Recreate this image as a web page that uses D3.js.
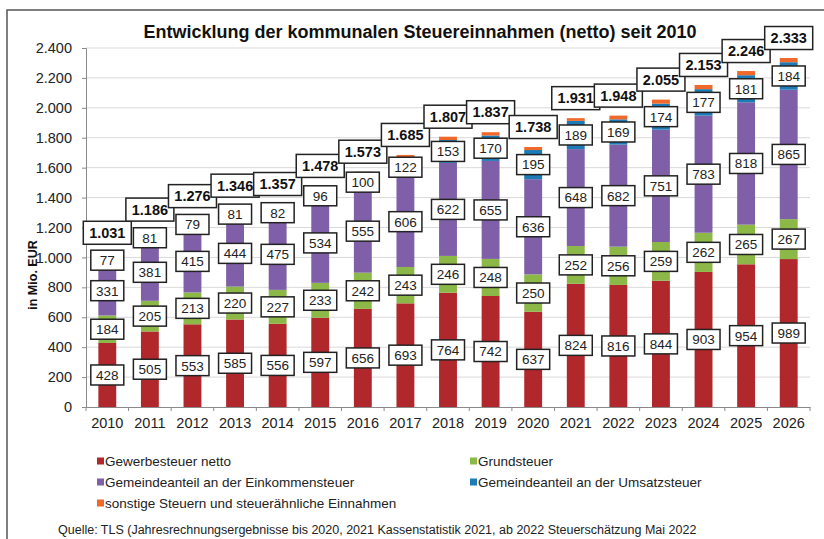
<!DOCTYPE html>
<html>
<head>
<meta charset="utf-8">
<script src="https://cdn.jsdelivr.net/npm/d3@7"></script>
<style>
  body { margin: 0; background: #fff; }
  svg { font-family: "Liberation Sans", Arial, sans-serif; display: block; }
</style>
</head>
<body>
<div id="chart"></div>
<script>
var svgWidth = 824;
var svgHeight = 539;

// values (Mio. EUR)
var years = ["2010", "2011", "2012", "2013", "2014", "2015", "2016", "2017", "2018",
  "2019", "2020", "2021", "2022", "2023", "2024", "2025", "2026"];
var gewerbe = [428, 505, 553, 585, 556, 597, 656, 693, 764, 742, 637, 824, 816, 844, 903, 954, 989];
var grund = [184, 205, 213, 220, 227, 233, 242, 243, 246, 248, 250, 252, 256, 259, 262, 265, 267];
var einkommen = [331, 381, 415, 444, 475, 534, 555, 606, 622, 655, 636, 648, 682, 751, 783, 818, 865];
var umsatz = [77, 81, 79, 81, 82, 96, 100, 122, 153, 170, 195, 189, 169, 174, 177, 181, 184];
var sonstige = [11, 14, 16, 16, 17, 18, 20, 21, 22, 22, 20, 18, 25, 27, 28, 28, 28];
var totals = [1031, 1186, 1276, 1346, 1357, 1478, 1573, 1685, 1807, 1837, 1738, 1931, 1948, 2055, 2153, 2246, 2333];
var yTicks = [0, 200, 400, 600, 800, 1000, 1200, 1400, 1600, 1800, 2000, 2200, 2400];

var seriesNames = ["Gewerbesteuer netto", "Grundsteuer", "Gemeindeanteil an der Einkommensteuer",
  "Gemeindeanteil an der Umsatzsteuer", "sonstige Steuern und steuerähnliche Einnahmen"];
var seriesKeys = ["gewerbe", "grund", "einkommen", "umsatz", "sonstige"];
var colors = ["#b0282b", "#8cb847", "#7f5fa8", "#1d7cb8", "#f1692a"];
var labelled = [true, true, true, true, false];

var de = d3.formatLocale({ decimal: ",", thousands: ".", grouping: [3], currency: ["", " €"] });
var fmt = de.format(",d");

// build rows for d3.stack
var rows = years.map(function(y, i) {
  return { year: y, gewerbe: gewerbe[i], grund: grund[i], einkommen: einkommen[i],
    umsatz: umsatz[i], sonstige: sonstige[i], total: totals[i] };
});

var svg = d3.select("#chart").append("svg")
  .attr("width", svgWidth)
  .attr("height", svgHeight);

// outer frame
svg.append("rect")
  .attr("x", 7).attr("y", 10)
  .attr("width", 840).attr("height", 560)
  .attr("fill", "none")
  .attr("stroke", "#555")
  .attr("stroke-width", 1.5);

var plot = { left: 86, right: 810, top: 48, bottom: 407 };

var x = d3.scaleBand()
  .domain(years)
  .range([plot.left, plot.right])
  .paddingInner(0.58)
  .paddingOuter(0.29);

var y = d3.scaleLinear()
  .domain([0, 2400])
  .range([plot.bottom, plot.top]);

// title
svg.append("text")
  .attr("x", 420).attr("y", 38)
  .attr("text-anchor", "middle")
  .attr("font-size", 18)
  .attr("font-weight", "bold")
  .attr("fill", "#111")
  .text("Entwicklung der kommunalen Steuereinnahmen (netto) seit 2010");

// gridlines
svg.append("g")
  .selectAll("line")
  .data(yTicks.slice(1))
  .enter().append("line")
  .attr("x1", plot.left).attr("x2", plot.right)
  .attr("y1", function(d) { return y(d); })
  .attr("y2", function(d) { return y(d); })
  .attr("stroke", "#d9d9d9")
  .attr("stroke-width", 1);

// y axis
var yAxis = svg.append("g")
  .attr("transform", "translate(" + plot.left + ",0)")
  .call(d3.axisLeft(y).tickValues(yTicks).tickFormat(fmt).tickSize(4).tickPadding(10));
yAxis.select(".domain").attr("stroke", "#8a8a8a");
yAxis.selectAll(".tick line").attr("stroke", "#8a8a8a");
yAxis.selectAll("text").attr("font-size", 14.5).attr("fill", "#222")
  .attr("font-family", "Liberation Sans, Arial, sans-serif");

svg.append("text")
  .attr("transform", "translate(37," + 275 + ") rotate(-90)")
  .attr("text-anchor", "middle")
  .attr("font-size", 12.5)
  .attr("font-weight", "bold")
  .attr("fill", "#111")
  .text("in Mio. EUR");

// stacked bars
var stack = d3.stack().keys(seriesKeys);
var stacked = stack(rows);

var layers = svg.append("g").selectAll("g.layer")
  .data(stacked)
  .enter().append("g")
  .attr("class", "layer")
  .attr("fill", function(d, i) { return colors[i]; });

layers.selectAll("rect")
  .data(function(d) { return d; })
  .enter().append("rect")
  .attr("x", function(d) { return x(d.data.year); })
  .attr("width", x.bandwidth())
  .attr("y", function(d) { return y(d[1]); })
  .attr("height", function(d) { return y(d[0]) - y(d[1]); });

// x axis
var xAxis = svg.append("g")
  .attr("transform", "translate(0," + plot.bottom + ")")
  .call(d3.axisBottom(x).tickSize(0).tickPadding(11));
xAxis.select(".domain").attr("stroke", "#8a8a8a");
xAxis.selectAll("text").attr("font-size", 14.5).attr("fill", "#222")
  .attr("font-family", "Liberation Sans, Arial, sans-serif");
// category separator ticks
svg.append("g").selectAll("line")
  .data(d3.range(years.length + 1))
  .enter().append("line")
  .attr("x1", function(i) { return plot.left + i * x.step(); })
  .attr("x2", function(i) { return plot.left + i * x.step(); })
  .attr("y1", plot.bottom).attr("y2", plot.bottom + 4)
  .attr("stroke", "#8a8a8a");

// segment value labels
var labelGroup = svg.append("g");
stacked.forEach(function(layer, si) {
  if (!labelled[si]) return;
  var g = labelGroup.selectAll("g.lab" + si)
    .data(layer)
    .enter().append("g")
    .attr("transform", function(d) {
      return "translate(" + (x(d.data.year) + x.bandwidth() / 2) + "," + y((d[0] + d[1]) / 2) + ")";
    });
  g.append("rect")
    .attr("x", -16.5).attr("y", -10)
    .attr("width", 33).attr("height", 20)
    .attr("fill", "#fff")
    .attr("stroke", "#222")
    .attr("stroke-width", 1.5);
  g.append("text")
    .attr("text-anchor", "middle")
    .attr("dy", "0.36em")
    .attr("font-size", 13.5)
    .attr("fill", "#222")
    .text(function(d) { return fmt(d.data[seriesKeys[si]]); });
});

// total labels
var tot = svg.append("g").selectAll("g")
  .data(rows)
  .enter().append("g")
  .attr("transform", function(d) {
    return "translate(" + (x(d.year) + x.bandwidth() / 2) + "," + (y(d.total) - 20) + ")";
  });
tot.append("rect")
  .attr("x", -24).attr("y", -11.5)
  .attr("width", 48).attr("height", 23)
  .attr("fill", "#fff")
  .attr("stroke", "#222")
  .attr("stroke-width", 1.5);
tot.append("text")
  .attr("text-anchor", "middle")
  .attr("dy", "0.36em")
  .attr("font-size", 14.5)
  .attr("font-weight", "bold")
  .attr("fill", "#111")
  .text(function(d) { return fmt(d.total); });

// legend
var legendPos = [[97, 461], [470, 461], [97, 482], [470, 482], [97, 503]];
var legend = svg.append("g").selectAll("g")
  .data(seriesNames)
  .enter().append("g")
  .attr("transform", function(d, i) { return "translate(" + legendPos[i][0] + "," + legendPos[i][1] + ")"; });
legend.append("rect")
  .attr("x", 0).attr("y", -3.5)
  .attr("width", 7).attr("height", 7)
  .attr("fill", function(d, i) { return colors[i]; });
legend.append("text")
  .attr("x", 8)
  .attr("dy", "0.35em")
  .attr("font-size", 13.5)
  .attr("fill", "#222")
  .text(function(d) { return d; });

// source
svg.append("text")
  .attr("x", 58).attr("y", 534)
  .attr("font-size", 12.5)
  .attr("fill", "#222")
  .text("Quelle: TLS (Jahresrechnungsergebnisse bis 2020, 2021 Kassenstatistik 2021, ab 2022 Steuerschätzung Mai 2022");
</script>
</body>
</html>
